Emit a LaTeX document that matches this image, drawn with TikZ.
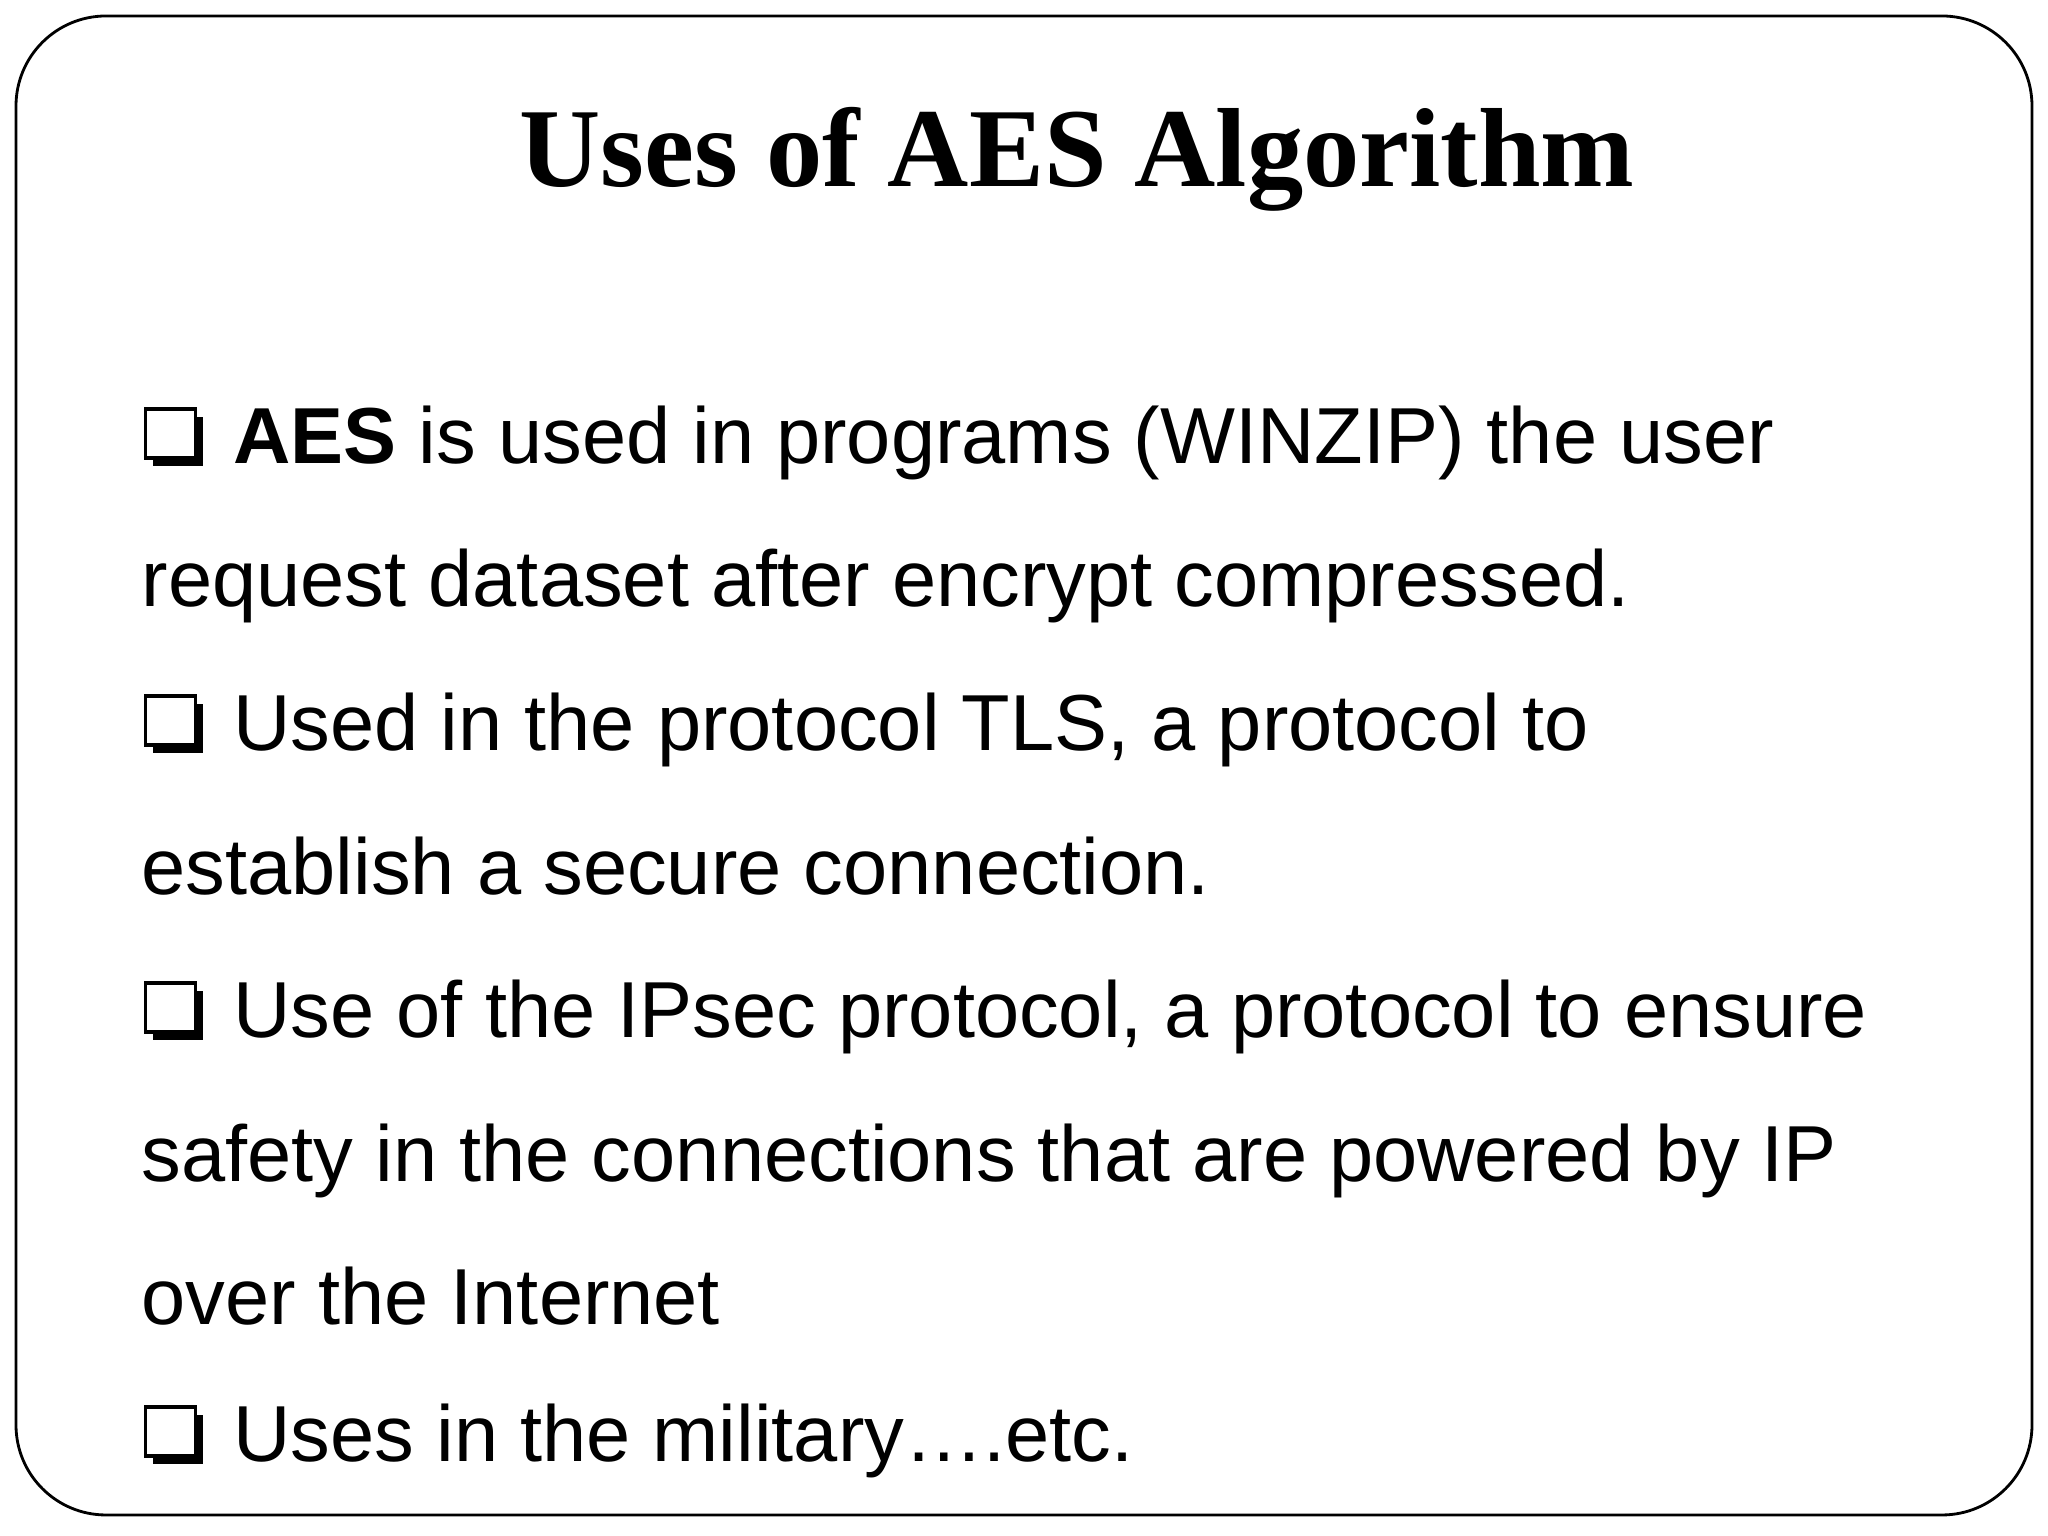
\documentclass[tikz,border=0pt]{standalone}
\usepackage{fontspec}
\setmainfont{Liberation Sans}
\newfontfamily\titlefont{Liberation Serif}
\newcommand{\qbx}{\tikz[baseline=0pt]{\fill[black] (0.08,-0.02) rectangle (0.58,0.47);\filldraw[fill=white,draw=black,line width=1pt] (0,0.06) rectangle (0.5,0.55);}\hspace{0.3cm}}
\begin{document}
\begin{tikzpicture}[line/.style={anchor=base west,inner sep=0pt,font=\fontsize{22.6}{26}\selectfont}]
\useasboundingbox (0,0) rectangle (20.48,15.36);
\draw[line width=0.8pt,rounded corners=0.9cm] (0.16,0.21) rectangle (20.32,15.2);
\node[anchor=base,inner sep=0pt,font=\titlefont\bfseries\fontsize{32}{40}\selectfont] (title) at (10.77,13.49) {Uses of AES Algorithm};
\node[line] (l1) at (1.43,10.72) {\qbx\textbf{AES} is used in programs (WINZIP) the user};
\node[line] (l2) at (1.41,9.29) {request dataset after encrypt compressed.};
\node[line] (l3) at (1.43,7.85) {\qbx Used in the protocol TLS, a protocol to};
\node[line] (l4) at (1.41,6.41) {establish a secure connection.};
\node[line] (l5) at (1.43,4.98) {\qbx Use of the IPsec protocol, a protocol to ensure};
\node[line] (l6) at (1.41,3.54) {safety in the connections that are powered by IP};
\node[line] (l7) at (1.41,2.11) {over the Internet};
\node[line] (l8) at (1.43,0.74) {\qbx Uses in the military….etc.};
\end{tikzpicture}
\end{document}
